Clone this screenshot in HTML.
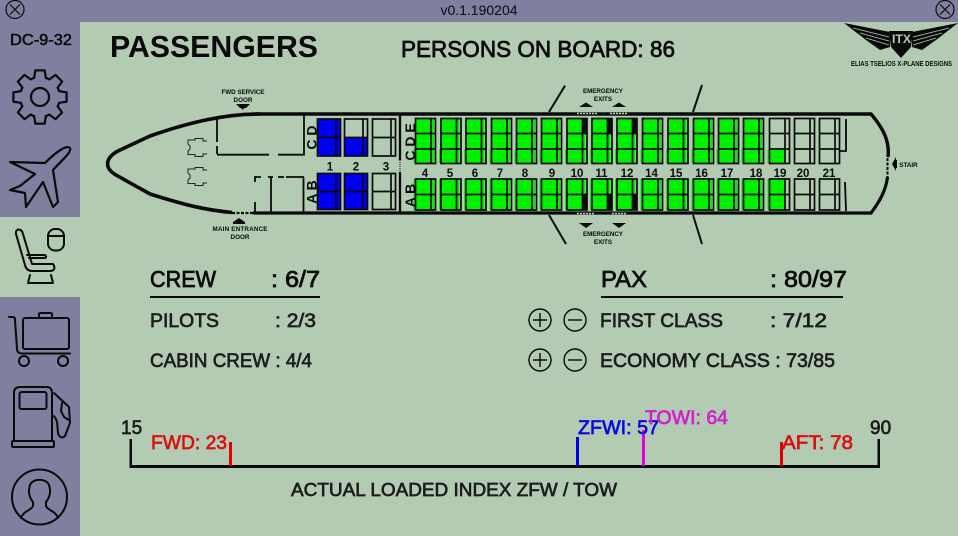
<!DOCTYPE html>
<html><head><meta charset="utf-8"><style>
html,body{margin:0;padding:0;background:#b2cbb2}
svg{display:block}
text{font-family:"Liberation Sans",sans-serif;fill:#0a0a0a}
.b{font-weight:bold}
.m{stroke:#0a0a0a;stroke-width:.75}
.g{fill:#1c1c1c;stroke:#1c1c1c;stroke-width:.65}
.i{fill:none;stroke:#0a0a0a;stroke-width:1.8;stroke-linejoin:round;stroke-linecap:round}
.sm{font-size:6.3px;font-weight:bold;text-anchor:middle}
.n{font-size:11.5px;font-weight:bold;text-anchor:middle}
</style></head><body>
<svg width="958" height="536" viewBox="0 0 958 536" xmlns="http://www.w3.org/2000/svg">
<defs>
<g id="f" fill="none" stroke="#0a0a0a" stroke-width="1.7"><rect x="0" y="0" width="20" height="45"/><path d="M0 15H20M0 30.5H20M15.5 0V45"/></g>
<g id="l" fill="none" stroke="#0a0a0a" stroke-width="1.7"><rect x="0" y="0" width="20" height="31"/><path d="M0 15.5H20M15.5 0V31"/></g>
<g id="gu" fill="#00f000"><rect x="0" y="0" width="15.5" height="45"/><rect x="-2" y="30.5" width="2" height="14"/><rect x="15.5" y="0" width="3" height="45"/></g>
<g id="gl" fill="#00f000"><rect x="0" y="0" width="15.5" height="31"/><rect x="-2" y="0" width="2" height="31"/><rect x="15.5" y="0" width="3" height="31"/></g>
<g id="t"><path class="i" style="stroke-width:2.2" d="M-5.85-19.1L-4.7-26.6 4.7-26.6 5.85-19.1A20 20 0 0 1 9.4-17.66"/></g>
<g id="fr" fill="none" stroke="#0a0a0a" stroke-width="1.7"><rect x="0" y="0" width="23" height="37"/><path d="M0 18.5H23M18.5 0V37"/></g>
<g id="fl" fill="none" stroke="#0a0a0a" stroke-width="1.7"><rect x="0" y="0" width="23" height="36"/><path d="M0 18H23M18.5 0V36"/></g>
</defs>
<rect width="958" height="536" fill="#b2cbb2"/>
<rect width="958" height="22" fill="#7f7f9f"/>
<rect y="22" width="80" height="195" fill="#7f7f9f"/>
<rect y="297" width="80" height="239" fill="#7f7f9f"/>
<text x="479" y="15" font-size="14" text-anchor="middle" fill="#111">v0.1.190204</text>
<g fill="none" stroke="#0a0a0a" stroke-width="1.2"><circle cx="15" cy="9.5" r="9"/><path d="M10 4.500L20 14.500M20 4.500L10 14.500"/><circle cx="945" cy="9.5" r="9"/><path d="M940 4.500L950 14.500M950 4.500L940 14.500"/></g>
<text x="10" y="45" font-size="16" class="m" style="stroke-width:.5" textLength="62" lengthAdjust="spacingAndGlyphs">DC-9-32</text>

<!-- gear -->
<g transform="translate(40 97)"><use href="#t"/><use href="#t" transform="rotate(45)"/><use href="#t" transform="rotate(90)"/><use href="#t" transform="rotate(135)"/><use href="#t" transform="rotate(180)"/><use href="#t" transform="rotate(225)"/><use href="#t" transform="rotate(270)"/><use href="#t" transform="rotate(315)"/><circle r="9" class="i" style="stroke-width:2.2"/></g>
<!-- plane -->
<path class="i" style="stroke-width:2.2" d="M70 148C67 145 58 150 45 163L10 162 35 174 20 186 10 190 25 193 26 207 43 182 53 207 58 202 53 170C62 160 72 152 70 148Z"/>
<!-- seat -->
<g class="i" style="stroke-width:2"><rect x="48" y="229" width="16" height="21.5" rx="7"/><path d="M48 236H64"/><path d="M16 234C15 228 22 228 23 234L32 264H53C56 268 54 271 50 271H32C28 271 26 269 25 265Z"/><path d="M27 255H45C47 257 46 258 44 258H29"/><path d="M30 275L28 283H53L51 275"/></g>
<!-- cart -->
<g class="i" style="stroke-width:2"><rect x="23" y="318" width="46" height="31" rx="2"/><path d="M39 318V314C39 313 40 313 41 313H50C51 313 52 313 52 314V318"/><path d="M9 317H13C15 317 15 319 15 320L17 349C17 352 19 353.5 22 353.5H70"/><circle cx="24" cy="361" r="5"/><circle cx="63" cy="361" r="5"/></g>
<!-- pump -->
<g class="i" style="stroke-width:2"><path d="M14 441V393C14 389 16 387 20 387H47C50 387 52 389 52 393V441"/><rect x="19.500" y="392" width="27" height="17" rx="2"/><rect x="12" y="441" width="42" height="6" rx="1"/><path d="M54 393L69 407 70 423 65 436C62 439 59 437 58 433L57 422C56 418 54 416 52 415"/><path d="M62 403L61 411 64 417 69 420"/></g>
<!-- person -->
<g class="i" style="stroke-width:2"><circle cx="39.500" cy="497" r="27.500"/><path d="M21 518C24 510 31 511 33 506L33 502C29 497 28 491 30 485 33 478 46 478 49 485 51 491 50 497 46 502L46 506C48 511 55 510 58 518"/></g>

<text x="110" y="57" font-size="31" class="b" textLength="208" lengthAdjust="spacingAndGlyphs">PASSENGERS</text>
<text x="401" y="57" font-size="23" class="m" textLength="274" lengthAdjust="spacingAndGlyphs">PERSONS ON BOARD: 86</text>

<!-- logo -->
<g fill="#0a0a0a">
<path d="M844 23L890 32V47L880 50 866 40Z"/>
<path d="M958 23L912 32V47L922 50 936 40Z"/>
<path d="M889 31H913L911 47 901 58 891 47Z"/>
</g>
<g fill="none" stroke="#b2cbb2" stroke-width=".8"><path d="M853 28L889 37M860 33L889 41M866 38L889 45M949 28L913 37M942 33L913 41M936 38L913 45"/></g>
<text x="892" y="43" font-size="12" class="b" style="fill:#b2cbb2" textLength="19" lengthAdjust="spacingAndGlyphs">ITX</text>
<text x="851" y="66" font-size="7" class="b" textLength="101" lengthAdjust="spacingAndGlyphs">ELIAS TSELIOS X-PLANE DESIGNS</text>

<!-- fuselage -->
<g fill="none" stroke="#0a0a0a">
<path stroke-width="3.6" d="M260 114C225 114 190 122 150 136L118 151C105 158 104 168 116 175L150 194C185 205 205 210 232 212.500"/>
<path stroke-width="3.4" d="M255 114H871C882 127 890 140 888 157"/>
<path stroke-width="3.2" d="M253 213H871C880 201 886 190 887.500 177"/>
<path stroke-width="2.200" stroke-dasharray="3 1.500" d="M232 213H253"/>
<path stroke-width="2" d="M887.500 158V177" stroke-dasharray="3 1.500"/>
<path stroke-width="1.800" d="M217 118V142M217 146V154M217 154.700H269M278 154.700H304V114M303.500 177V213"/>
<path stroke-width="2.300" d="M400 114V160M400 172V213"/>
<path stroke-width="1" d="M400 160V172" stroke-dasharray="1 1"/>
<path stroke-width="1.800" d="M255 182V177H261M268 177H273M278 177H284M286 177H304M271 177V213M255 202V213M846 119V151H840M845 182L846 211"/>
<path stroke-width="2" d="M565 85.700L549 112M549 215L566 244M702 85L693 112M693 215L702 244"/>
<path stroke-width="1.500" stroke-dasharray="2 1" stroke="#b2cbb2" d="M577 113.500H597M610 113.500H628M577 213.500H595M612 213.500H627"/>
</g>
<!-- cockpit seats -->
<g fill="none" stroke="#222" stroke-width="1">
<path d="M207 141H203V138.500H195V140H188V144L190 146V149L188 151V154.500H195V156.500H203V154H207"/>
<path d="M207 170H203V167.500H195V169H188V173L190 175V178L188 180V183.500H195V185.500H203V183H207"/>
</g>
<!-- arrows -->
<g fill="#0a0a0a">
<path d="M236 104H250L246 108H244L243 110 241 108H240Z"/>
<path d="M233 222L239 218 245 222V224H233Z"/>
<path d="M579 107L586 102.500 593 107Z"/><path d="M612 107L619 102.500 626 107Z"/>
<path d="M579 223H593L586 228Z"/><path d="M612 223H626L619 228Z"/>
<path d="M892 164L896 157V171Z"/><rect x="894" y="160" width="3" height="8"/>
</g>
<text class="sm" x="243" y="94" textLength="43">FWD SERVICE</text><text class="sm" x="243" y="102">DOOR</text>
<text class="sm" x="240" y="231" textLength="55">MAIN ENTRANCE</text><text class="sm" x="240" y="239">DOOR</text>
<text class="sm" x="603" y="93" textLength="40">EMERGENCY</text><text class="sm" x="603" y="101">EXITS</text>
<text class="sm" x="603" y="236" textLength="40">EMERGENCY</text><text class="sm" x="603" y="244">EXITS</text>
<text class="sm" x="908.500" y="167">STAIR</text>

<!-- front seats -->
<rect x="317.500" y="119" width="23" height="37" fill="#0000f0"/><use href="#fr" x="317.500" y="119"/>
<rect x="344.500" y="137.500" width="23" height="18.500" fill="#0000f0"/><use href="#fr" x="344.500" y="119"/>
<use href="#fr" x="372.500" y="119"/>
<rect x="317.500" y="173.500" width="23" height="36" fill="#0000f0"/><use href="#fl" x="317.500" y="173.500"/>
<rect x="344.500" y="173.500" width="23" height="36" fill="#0000f0"/><use href="#fl" x="344.500" y="173.500"/>
<use href="#fl" x="372.500" y="173.500"/>

<!-- economy: green -->
<use href="#gu" x="415.500" y="118.500"/><use href="#gl" x="415.500" y="179"/>
<use href="#gu" x="441" y="118.500"/><use href="#gl" x="441" y="179"/>
<use href="#gu" x="466" y="118.500"/><use href="#gl" x="466" y="179"/>
<use href="#gu" x="491.500" y="118.500"/><use href="#gl" x="491.500" y="179"/>
<use href="#gu" x="516.500" y="118.500"/><use href="#gl" x="516.500" y="179"/>
<use href="#gu" x="541.500" y="118.500"/><use href="#gl" x="541.500" y="179"/>
<use href="#gu" x="567" y="118.500"/><use href="#gl" x="567" y="179"/>
<use href="#gu" x="592" y="118.500"/><use href="#gl" x="592" y="179"/>
<use href="#gu" x="617" y="118.500"/><use href="#gl" x="617" y="179"/>
<use href="#gu" x="642.500" y="118.500"/><use href="#gl" x="642.500" y="179"/>
<use href="#gu" x="668" y="118.500"/><use href="#gl" x="668" y="179"/>
<use href="#gu" x="693.500" y="118.500"/><use href="#gl" x="693.500" y="179"/>
<use href="#gu" x="718.500" y="118.500"/><use href="#gl" x="718.500" y="179"/>
<use href="#gu" x="743.500" y="118.500"/><use href="#gl" x="743.500" y="179"/>
<rect x="767.500" y="149" width="17" height="14" fill="#00f000"/>
<rect x="767.500" y="179" width="17" height="31" fill="#00f000"/>
<!-- black blocks -->
<g fill="#0a0a0a">
<rect x="582" y="118.500" width="5" height="15"/><rect x="607" y="118.500" width="5" height="15"/><rect x="632" y="118.500" width="5" height="15"/>
<rect x="582" y="194.500" width="5" height="15.500"/><rect x="607" y="194.500" width="5" height="15.500"/><rect x="632" y="194.500" width="5" height="15.500"/>
</g>
<use href="#f" x="415.500" y="118.500"/><use href="#l" x="415.500" y="179"/>
<use href="#f" x="441" y="118.500"/><use href="#l" x="441" y="179"/>
<use href="#f" x="466" y="118.500"/><use href="#l" x="466" y="179"/>
<use href="#f" x="491.500" y="118.500"/><use href="#l" x="491.500" y="179"/>
<use href="#f" x="516.500" y="118.500"/><use href="#l" x="516.500" y="179"/>
<use href="#f" x="541.500" y="118.500"/><use href="#l" x="541.500" y="179"/>
<use href="#f" x="567" y="118.500"/><use href="#l" x="567" y="179"/>
<use href="#f" x="592" y="118.500"/><use href="#l" x="592" y="179"/>
<use href="#f" x="617" y="118.500"/><use href="#l" x="617" y="179"/>
<use href="#f" x="642.500" y="118.500"/><use href="#l" x="642.500" y="179"/>
<use href="#f" x="668" y="118.500"/><use href="#l" x="668" y="179"/>
<use href="#f" x="693.500" y="118.500"/><use href="#l" x="693.500" y="179"/>
<use href="#f" x="718.500" y="118.500"/><use href="#l" x="718.500" y="179"/>
<use href="#f" x="743.500" y="118.500"/><use href="#l" x="743.500" y="179"/>
<use href="#f" x="769.500" y="118.500"/><use href="#l" x="769.500" y="179"/>
<use href="#f" x="794.500" y="118.500"/><use href="#l" x="794.500" y="179"/>
<use href="#f" x="819.500" y="118.500"/><use href="#l" x="819.500" y="179"/>

<!-- row numbers -->
<text class="n" x="330" y="170.500">1</text><text class="n" x="356" y="170.500">2</text><text class="n" x="386" y="170.500">3</text>
<text class="n" x="425" y="177">4</text><text class="n" x="450" y="177">5</text><text class="n" x="475" y="177">6</text><text class="n" x="500" y="177">7</text><text class="n" x="525" y="177">8</text><text class="n" x="552" y="177">9</text><text class="n" x="577" y="177">10</text><text class="n" x="601.500" y="177">11</text><text class="n" x="627" y="177">12</text><text class="n" x="651.500" y="177">14</text><text class="n" x="676" y="177">15</text><text class="n" x="701.500" y="177">16</text><text class="n" x="727" y="177">17</text><text class="n" x="756" y="177">18</text><text class="n" x="780" y="177">19</text><text class="n" x="803" y="177">20</text><text class="n" x="829" y="177">21</text>
<!-- column letters -->
<g font-size="14" text-anchor="middle">
<text transform="translate(316.700 137.500) rotate(-90)" style="font-weight:bold">C D</text>
<text transform="translate(316.700 192) rotate(-90)" style="font-weight:bold">A B</text>
<text transform="translate(415 142) rotate(-90)" style="font-weight:bold">C D E</text>
<text transform="translate(415 195.500) rotate(-90)" style="font-weight:bold">A B</text>
</g>

<!-- crew/pax -->
<text x="150" y="287" font-size="23" class="m" textLength="66" lengthAdjust="spacingAndGlyphs">CREW</text>
<text x="271" y="287" font-size="23" class="m" textLength="49" lengthAdjust="spacingAndGlyphs">: 6/7</text>
<rect x="150" y="296" width="170" height="2" fill="#0a0a0a"/>
<text x="150" y="327" font-size="19" class="g" textLength="69" lengthAdjust="spacingAndGlyphs">PILOTS</text>
<text x="275" y="327" font-size="19" class="g" textLength="41" lengthAdjust="spacingAndGlyphs">: 2/3</text>
<text x="150" y="367" font-size="19" class="g" textLength="162" lengthAdjust="spacingAndGlyphs">CABIN CREW : 4/4</text>
<text x="601" y="287" font-size="23" class="m" textLength="46" lengthAdjust="spacingAndGlyphs">PAX</text>
<text x="770" y="287" font-size="23" class="m" textLength="77" lengthAdjust="spacingAndGlyphs">: 80/97</text>
<rect x="601" y="296" width="242" height="2" fill="#0a0a0a"/>
<text x="600" y="327" font-size="19" class="g" textLength="123" lengthAdjust="spacingAndGlyphs">FIRST CLASS</text>
<text x="770" y="327" font-size="19" class="g" textLength="57" lengthAdjust="spacingAndGlyphs">:  7/12</text>
<text x="600" y="367" font-size="19" class="g" textLength="235" lengthAdjust="spacingAndGlyphs">ECONOMY CLASS : 73/85</text>
<g fill="none" stroke="#0a0a0a" stroke-width="1.400">
<circle cx="540" cy="320" r="11"/><path d="M533 320H547M540 313V327"/><circle cx="575" cy="320" r="11"/><path d="M568 320H582"/>
<circle cx="540" cy="360" r="11"/><path d="M533 360H547M540 353V367"/><circle cx="575" cy="360" r="11"/><path d="M568 360H582"/>
</g>

<!-- scale -->
<rect x="129.500" y="465" width="750.500" height="3" fill="#0a0a0a"/>
<rect x="129.500" y="439" width="2.500" height="28" fill="#0a0a0a"/>
<rect x="877.500" y="439" width="2.500" height="28" fill="#0a0a0a"/>
<rect x="229" y="442" width="3" height="24" fill="#e00000"/>
<rect x="576" y="437" width="3" height="29" fill="#0000f0"/>
<rect x="642" y="430" width="3" height="36" fill="#e000e0"/>
<rect x="780" y="442" width="3" height="24" fill="#e00000"/>
<text x="121" y="434" font-size="19" class="g">15</text>
<text x="870" y="434" font-size="19" class="g">90</text>
<text x="151" y="449" font-size="19" style="fill:#d81010;stroke:#d81010;stroke-width:.65" textLength="76" lengthAdjust="spacingAndGlyphs">FWD: 23</text>
<text x="578" y="434" font-size="19" style="fill:#0808e0;stroke:#0808e0;stroke-width:.65" textLength="81" lengthAdjust="spacingAndGlyphs">ZFWI: 57</text>
<text x="645" y="424" font-size="19" style="fill:#d020d0;stroke:#d020d0;stroke-width:.65" textLength="83" lengthAdjust="spacingAndGlyphs">TOWI: 64</text>
<text x="782" y="449" font-size="19" style="fill:#d81010;stroke:#d81010;stroke-width:.65" textLength="71" lengthAdjust="spacingAndGlyphs">AFT: 78</text>
<text x="291" y="496" font-size="18" class="g" textLength="326" lengthAdjust="spacingAndGlyphs">ACTUAL LOADED INDEX ZFW / TOW</text>
</svg>
</body></html>
